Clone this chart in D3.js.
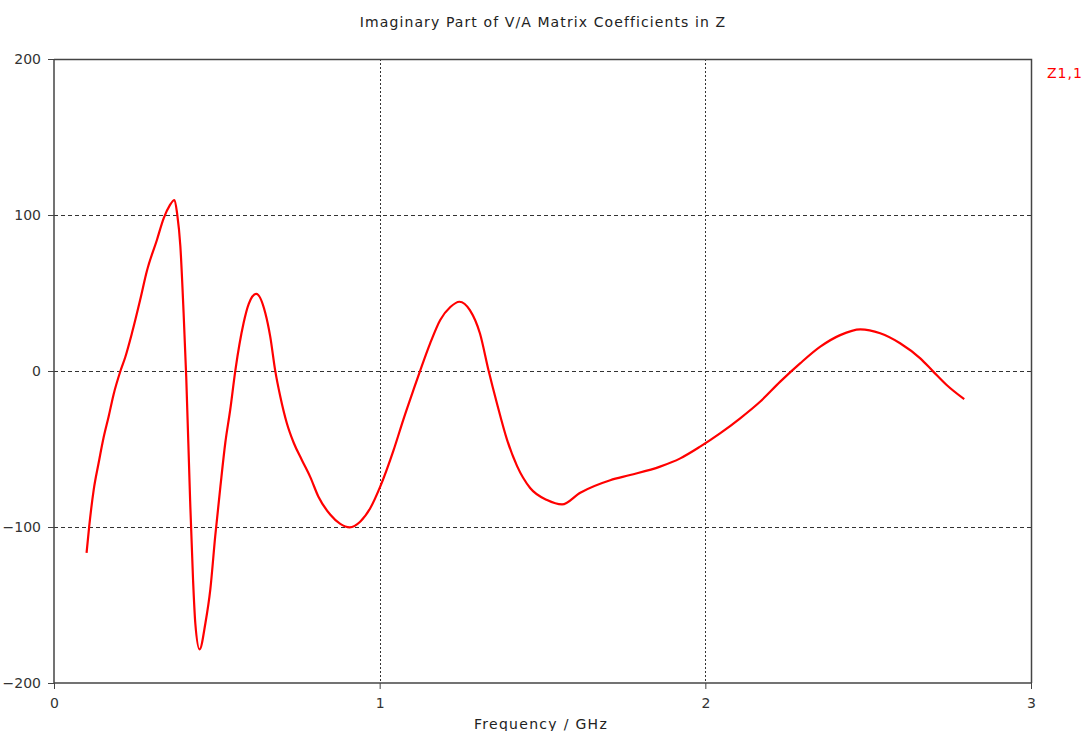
<!DOCTYPE html>
<html>
<head>
<meta charset="utf-8">
<script src="https://cdn.jsdelivr.net/npm/d3@7"></script>
<style>
  body { margin: 0; background: #fff; }
  svg { display: block; font-family: "DejaVu Sans", Verdana, sans-serif; }
</style>
</head>
<body>
<svg id="chart" width="1086" height="731"></svg>
<script>
// frequency in GHz, imaginary part of Z1,1
const freq = [0.1, 0.108, 0.122, 0.137, 0.152, 0.168, 0.183, 0.204, 0.219, 0.239,
  0.265, 0.285, 0.316, 0.337, 0.355, 0.37, 0.378, 0.388, 0.398, 0.406,
  0.418, 0.427, 0.434, 0.447, 0.465, 0.48, 0.495, 0.511, 0.526, 0.541,
  0.557, 0.582, 0.598, 0.621, 0.649, 0.664, 0.679, 0.695, 0.715, 0.736,
  0.761, 0.787, 0.812, 0.848, 0.879, 0.908, 0.94, 0.971, 1.002, 1.043,
  1.073, 1.104, 1.125, 1.155, 1.186, 1.217, 1.245, 1.277, 1.308, 1.334,
  1.36, 1.391, 1.422, 1.462, 1.514, 1.56, 1.616, 1.708, 1.769, 1.861,
  1.923, 1.984, 2.045, 2.107, 2.168, 2.23, 2.291, 2.353, 2.414, 2.476,
  2.537, 2.598, 2.66, 2.7, 2.741, 2.795];
const z11 = [-116.6, -99.8, -76, -59, -43, -29, -15, 0, 9, 24,
  46, 64, 84, 98, 106, 109.6, 101, 80, 37, -3.6,
  -83, -134, -162, -178.4, -161.5, -140, -106, -74, -46, -25,
  0.6, 30.6, 43, 49.4, 37, 22, 0.6, -16.5, -33.5, -46,
  -57, -68, -80.6, -92, -98, -100.2, -96.6, -88, -74, -50.6,
  -31, -12, 0.6, 17.7, 32.7, 41, 44.4, 39, 24, 0.6,
  -20.7, -44, -61, -75, -82.7, -85.5, -78, -70, -66.7, -61.3,
  -56, -48.5, -40, -30.3, -19.7, -6.8, 4.9, 15.6, 23, 26.7,
  24.2, 17.8, 8.1, -0.4, -9, -18.1];
const xTicks = [0, 1, 2, 3];
const yTicks = [-200, -100, 0, 100, 200];

const svg = d3.select("#chart");
const mLeft = 54, mRight = 1031, mTop = 59, mBottom = 683;

const x = d3.scaleLinear().domain([0, 3]).range([mLeft, mRight]);
const y = d3.scaleLinear().domain([-200, 200]).range([mBottom, mTop]);

// grid
svg.append("g")
  .selectAll("line")
  .data(yTicks.filter(d => d > -200 && d < 200))
  .join("line")
  .attr("x1", mLeft).attr("x2", mRight)
  .attr("y1", d => Math.round(y(d)) + 0.5).attr("y2", d => Math.round(y(d)) + 0.5)
  .attr("stroke", "#333").attr("stroke-dasharray", "4,3");
svg.append("g")
  .selectAll("line")
  .data(xTicks.filter(d => d > 0 && d < 3))
  .join("line")
  .attr("x1", d => Math.round(x(d)) + 0.5).attr("x2", d => Math.round(x(d)) + 0.5)
  .attr("y1", mTop).attr("y2", mBottom)
  .attr("stroke", "#333").attr("stroke-dasharray", "2,2");

// frame top/right
svg.append("path")
  .attr("d", `M${mLeft},${mTop + 0.5}H${mRight + 0.5}V${mBottom}`)
  .attr("fill", "none").attr("stroke", "#444").attr("stroke-width", 1.5);

// axes
const yAxis = svg.append("g")
  .attr("transform", `translate(${mLeft},0)`)
  .call(d3.axisLeft(y).tickValues(yTicks).tickSize(6).tickPadding(7));
const xAxis = svg.append("g")
  .attr("transform", `translate(0,${mBottom})`)
  .call(d3.axisBottom(x).tickValues(xTicks).tickSize(6).tickPadding(9).tickFormat(d3.format("d")));
[yAxis, xAxis].forEach(g => {
  g.select(".domain").attr("stroke", "#444").attr("stroke-width", 1.5);
  g.selectAll(".tick line").attr("stroke", "#444");
  g.selectAll("text").attr("fill", "#333").style("font-size", "14px")
    .style("font-family", "'DejaVu Sans', Verdana, sans-serif");
});
yAxis.select(".domain").attr("d", `M0,${mTop}V${mBottom}`);
xAxis.select(".domain").attr("d", `M${mLeft},0H${mRight}`);

// curve
const pts = freq.map((f, i) => [f, z11[i]]);
svg.append("path")
  .datum(pts)
  .attr("fill", "none")
  .attr("stroke", "#ff0000")
  .attr("stroke-width", 2.2)
  .attr("stroke-linejoin", "round")
  .attr("d", d3.line().x(d => x(d[0])).y(d => y(d[1])).curve(d3.curveMonotoneX));

// texts
svg.append("text")
  .attr("x", 543).attr("y", 27)
  .attr("text-anchor", "middle")
  .attr("fill", "#222").style("font-size", "14px")
  .style("letter-spacing", "1.1px")
  .text("Imaginary Part of V/A Matrix Coefficients in Z");
svg.append("text")
  .attr("x", 541).attr("y", 729)
  .attr("text-anchor", "middle")
  .attr("fill", "#222").style("font-size", "14px")
  .style("letter-spacing", "1.3px")
  .text("Frequency / GHz");
svg.append("text")
  .attr("x", 1047).attr("y", 78)
  .attr("fill", "#ff0000").style("font-size", "14px")
  .style("letter-spacing", "1px")
  .text("Z1,1");
</script>
</body>
</html>
